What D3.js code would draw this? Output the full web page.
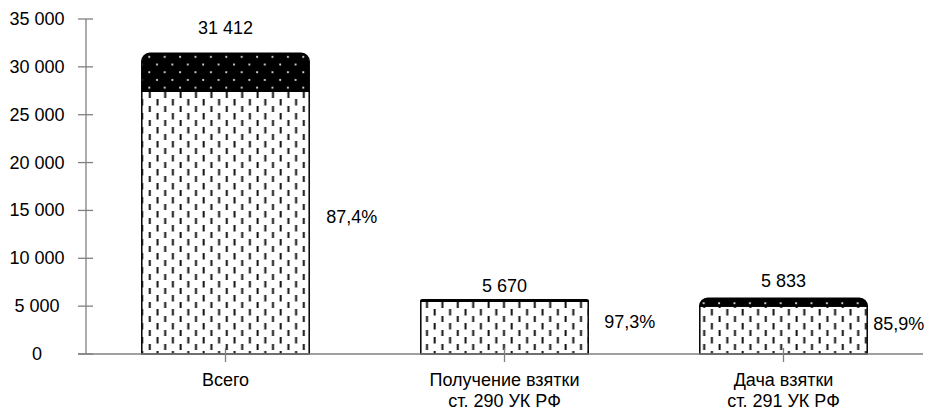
<!DOCTYPE html>
<html><head><meta charset="utf-8">
<script src="https://cdn.jsdelivr.net/npm/d3@7"></script>
<style>
html,body{margin:0;padding:0;background:#fff;}
text{font-family:"Liberation Sans",Arial,sans-serif;font-size:18px;fill:#000;}
</style></head>
<body>
<svg id="chart" width="931" height="409"></svg>
<script>
// ---- data ----
const categories = [["Всего"], ["Получение взятки", "ст. 290 УК РФ"], ["Дача взятки", "ст. 291 УК РФ"]];
const totals = [31412, 5670, 5833];
const sharePercents = [87.4, 97.3, 85.9];
const yTickValues = [0, 5000, 10000, 15000, 20000, 25000, 30000, 35000];

// ---- layout ----
const plot = {left: 86, right: 923, top: 19, bottom: 354};
const valueLabelLift = [19, 8, 11];
const pctLabelGap = [17, 16, 6];

const loc = d3.formatLocale({decimal: ",", thousands: "\u00a0", grouping: [3], currency: ["", ""]});
const fmtInt = v => loc.format(",d")(v).replace(/\u00a0/g, " ");
const fmtPct = v => loc.format(".1f")(v) + "%";

const svg = d3.select("#chart");
const defs = svg.append("defs");

// lower part pattern: white with staggered vertical dashes
const pd = defs.append("pattern").attr("id", "dashV").attr("patternUnits", "userSpaceOnUse")
  .attr("width", 15.4).attr("height", 14);
pd.append("rect").attr("width", 15.4).attr("height", 14).attr("fill", "#fff");
pd.append("rect").attr("x", 2.5).attr("y", 1).attr("width", 2).attr("height", 6.5).attr("fill", "#111");
pd.append("rect").attr("x", 10.2).attr("y", 8).attr("width", 2).attr("height", 6.5).attr("fill", "#111");

// upper part pattern: black with white dots
const pt = defs.append("pattern").attr("id", "dots").attr("patternUnits", "userSpaceOnUse")
  .attr("width", 15.4).attr("height", 15.4);
pt.append("rect").attr("width", 15.4).attr("height", 15.4).attr("fill", "#000");
pt.append("circle").attr("cx", 3).attr("cy", 3).attr("r", 1.1).attr("fill", "#e6e6e6");
pt.append("circle").attr("cx", 10.7).attr("cy", 10.7).attr("r", 1.1).attr("fill", "#e6e6e6");

const idx = d3.range(totals.length);
const x = d3.scaleBand().domain(idx).range([plot.left, plot.right]).paddingInner(0.4).paddingOuter(0.2);
const y = d3.scaleLinear().domain([0, 35000]).range([plot.bottom, plot.top]);

const axisColor = "#808080";

// bars
const bars = svg.append("g");
idx.forEach(i => {
  const x0 = x(i), w = x.bandwidth();
  const lower = totals[i] * sharePercents[i] / 100;
  const yb = y(0), ym = y(lower), yt = y(totals[i]);
  bars.append("rect").attr("x", x0).attr("y", ym).attr("width", w).attr("height", yb - ym)
    .attr("fill", "url(#dashV)").attr("stroke", "#000").attr("stroke-width", 1.5);
  const h = ym - yt;
  const r = Math.min(8, h, w / 2);
  const p = `M${x0},${ym} L${x0},${yt + r} A${r},${r} 0 0 1 ${x0 + r},${yt} L${x0 + w - r},${yt} A${r},${r} 0 0 1 ${x0 + w},${yt + r} L${x0 + w},${ym} Z`;
  bars.append("path").attr("d", p).attr("fill", "url(#dots)").attr("stroke", "#000").attr("stroke-width", 1.5);
  svg.append("text").attr("x", x0 + w / 2).attr("y", yt - valueLabelLift[i])
    .attr("text-anchor", "middle").text(fmtInt(totals[i]));
  svg.append("text").attr("x", x0 + w + pctLabelGap[i]).attr("y", (ym + yb) / 2 - 6)
    .attr("dominant-baseline", "central").text(fmtPct(sharePercents[i]));
});

// y axis
const ya = svg.append("g");
ya.append("line").attr("x1", plot.left).attr("x2", plot.left).attr("y1", y(35000)).attr("y2", y(0))
  .attr("stroke", axisColor).attr("stroke-width", 1.3);
yTickValues.forEach(v => {
  ya.append("line").attr("x1", plot.left - 8).attr("x2", plot.left + 7).attr("y1", y(v)).attr("y2", y(v))
    .attr("stroke", axisColor).attr("stroke-width", 1.3);
  ya.append("text").attr("x", 37).attr("y", y(v)).attr("text-anchor", "middle")
    .attr("dominant-baseline", "central").text(fmtInt(v));
});

// x axis
const xa = svg.append("g");
xa.append("line").attr("x1", plot.left - 8).attr("x2", plot.right).attr("y1", y(0)).attr("y2", y(0))
  .attr("stroke", axisColor).attr("stroke-width", 1.3);
idx.forEach(i => {
  const cx = x(i) + x.bandwidth() / 2;
  xa.append("line").attr("x1", cx).attr("x2", cx).attr("y1", y(0) - 6).attr("y2", y(0) + 8)
    .attr("stroke", axisColor).attr("stroke-width", 1.3);
  const t = xa.append("text").attr("text-anchor", "middle");
  categories[i].forEach((line, k) => {
    t.append("tspan").attr("x", cx).attr("y", 386 + k * 20.5).text(line);
  });
});
</script>
</body></html>
